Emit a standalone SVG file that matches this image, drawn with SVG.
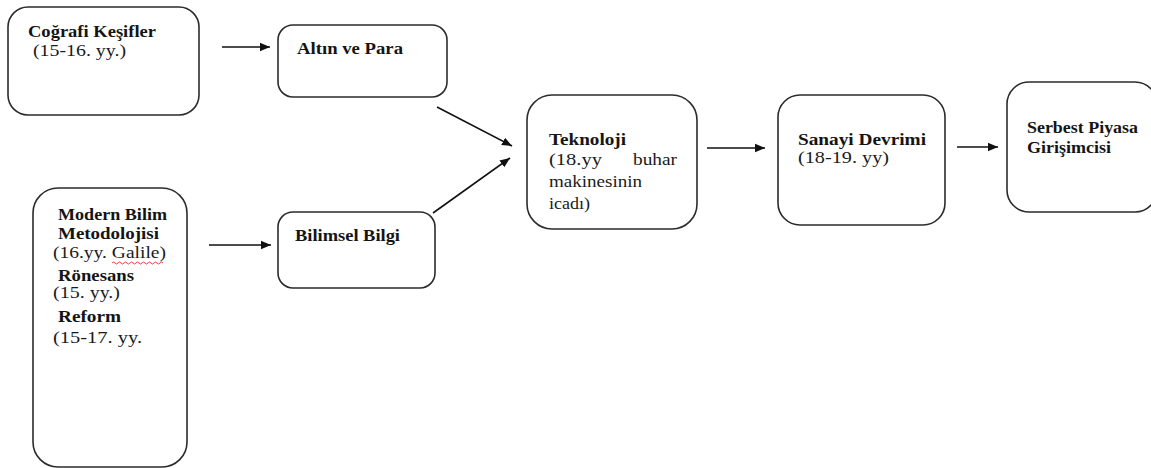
<svg xmlns="http://www.w3.org/2000/svg" width="1151" height="468" viewBox="0 0 1151 468">
<style>
.box{fill:#fff;stroke:#2b2b2b;stroke-width:1.6}
.b{font-family:'Liberation Serif','Times New Roman',serif;font-weight:bold;font-size:16px;fill:#141414}
.n{font-family:'Liberation Serif','Times New Roman',serif;font-size:16px;fill:#1a1a1a}
.con{stroke:#111;stroke-width:1.6;fill:none;marker-end:url(#ah)}
</style>
<defs>
<marker id="ah" markerUnits="userSpaceOnUse" markerWidth="12" markerHeight="10" refX="10" refY="5" orient="auto">
<path d="M0,0.8 L10,5 L0,9.2 Z" fill="#111"/>
</marker>
</defs>
<rect width="1151" height="468" fill="#fff"/>
<g id="connectors">
<line class="con" x1="222" y1="47" x2="270" y2="47"/>
<line class="con" x1="209" y1="245" x2="271" y2="245"/>
<line class="con" x1="437" y1="107" x2="512" y2="146"/>
<line class="con" x1="433" y1="213" x2="510" y2="158"/>
<line class="con" x1="707" y1="148" x2="765" y2="148"/>
<line class="con" x1="957" y1="147" x2="998" y2="147"/>
</g>
<g id="cografi">
<rect class="box" x="8" y="7" width="191" height="108" rx="20"/>
<text class="b" x="28" y="37" textLength="128" lengthAdjust="spacingAndGlyphs">Coğrafi Keşifler</text>
<text class="n" x="33" y="56" textLength="93" lengthAdjust="spacingAndGlyphs">(15-16. yy.)</text>
</g>
<g id="altin">
<rect class="box" x="278" y="25" width="169" height="72" rx="15"/>
<text class="b" x="297" y="54" textLength="106" lengthAdjust="spacingAndGlyphs">Altın ve Para</text>
</g>
<g id="modern">
<rect class="box" x="33" y="188" width="154" height="279" rx="25"/>
<text class="b" x="58" y="220" textLength="109" lengthAdjust="spacingAndGlyphs">Modern Bilim</text>
<text class="b" x="58" y="239" textLength="101" lengthAdjust="spacingAndGlyphs">Metodolojisi</text>
<text class="n" x="53" y="258" textLength="113" lengthAdjust="spacingAndGlyphs">(16.yy. Galile)</text>
<path d="M112,263 q1.5,-2 3,0 t3,0 t3,0 t3,0 t3,0 t3,0 t3,0 t3,0 t3,0 t3,0 t3,0 t3,0 t3,0 t3,0 t3,0 t3,0 t3,0" fill="none" stroke="#e03030" stroke-width="0.9"/>
<text class="b" x="58" y="281" textLength="76" lengthAdjust="spacingAndGlyphs">Rönesans</text>
<text class="n" x="53" y="298" textLength="67" lengthAdjust="spacingAndGlyphs">(15. yy.)</text>
<text class="b" x="58" y="322" textLength="63" lengthAdjust="spacingAndGlyphs">Reform</text>
<text class="n" x="53" y="343" textLength="89" lengthAdjust="spacingAndGlyphs">(15-17. yy.</text>
</g>
<g id="bilimsel">
<rect class="box" x="278" y="212" width="157" height="76" rx="15"/>
<text class="b" x="295" y="241" textLength="105" lengthAdjust="spacingAndGlyphs">Bilimsel Bilgi</text>
</g>
<g id="teknoloji">
<rect class="box" x="527" y="95" width="170" height="134" rx="25"/>
<text class="b" x="549" y="145" textLength="77" lengthAdjust="spacingAndGlyphs">Teknoloji</text>
<text class="n" x="549" y="165" textLength="53" lengthAdjust="spacingAndGlyphs">(18.yy</text>
<text class="n" x="633" y="165" textLength="44" lengthAdjust="spacingAndGlyphs">buhar</text>
<text class="n" x="549" y="187" textLength="93" lengthAdjust="spacingAndGlyphs">makinesinin</text>
<text class="n" x="549" y="209" textLength="41" lengthAdjust="spacingAndGlyphs">icadı)</text>
</g>
<g id="sanayi">
<rect class="box" x="778" y="95" width="167" height="130" rx="22"/>
<text class="b" x="798" y="145" textLength="128" lengthAdjust="spacingAndGlyphs">Sanayi Devrimi</text>
<text class="n" x="798" y="163" textLength="91" lengthAdjust="spacingAndGlyphs">(18-19. yy)</text>
</g>
<g id="serbest">
<rect class="box" x="1007" y="82" width="150" height="130" rx="22"/>
<text class="b" x="1027" y="133" textLength="111" lengthAdjust="spacingAndGlyphs">Serbest Piyasa</text>
<text class="b" x="1027" y="153" textLength="84" lengthAdjust="spacingAndGlyphs">Girişimcisi</text>
</g>
</svg>
